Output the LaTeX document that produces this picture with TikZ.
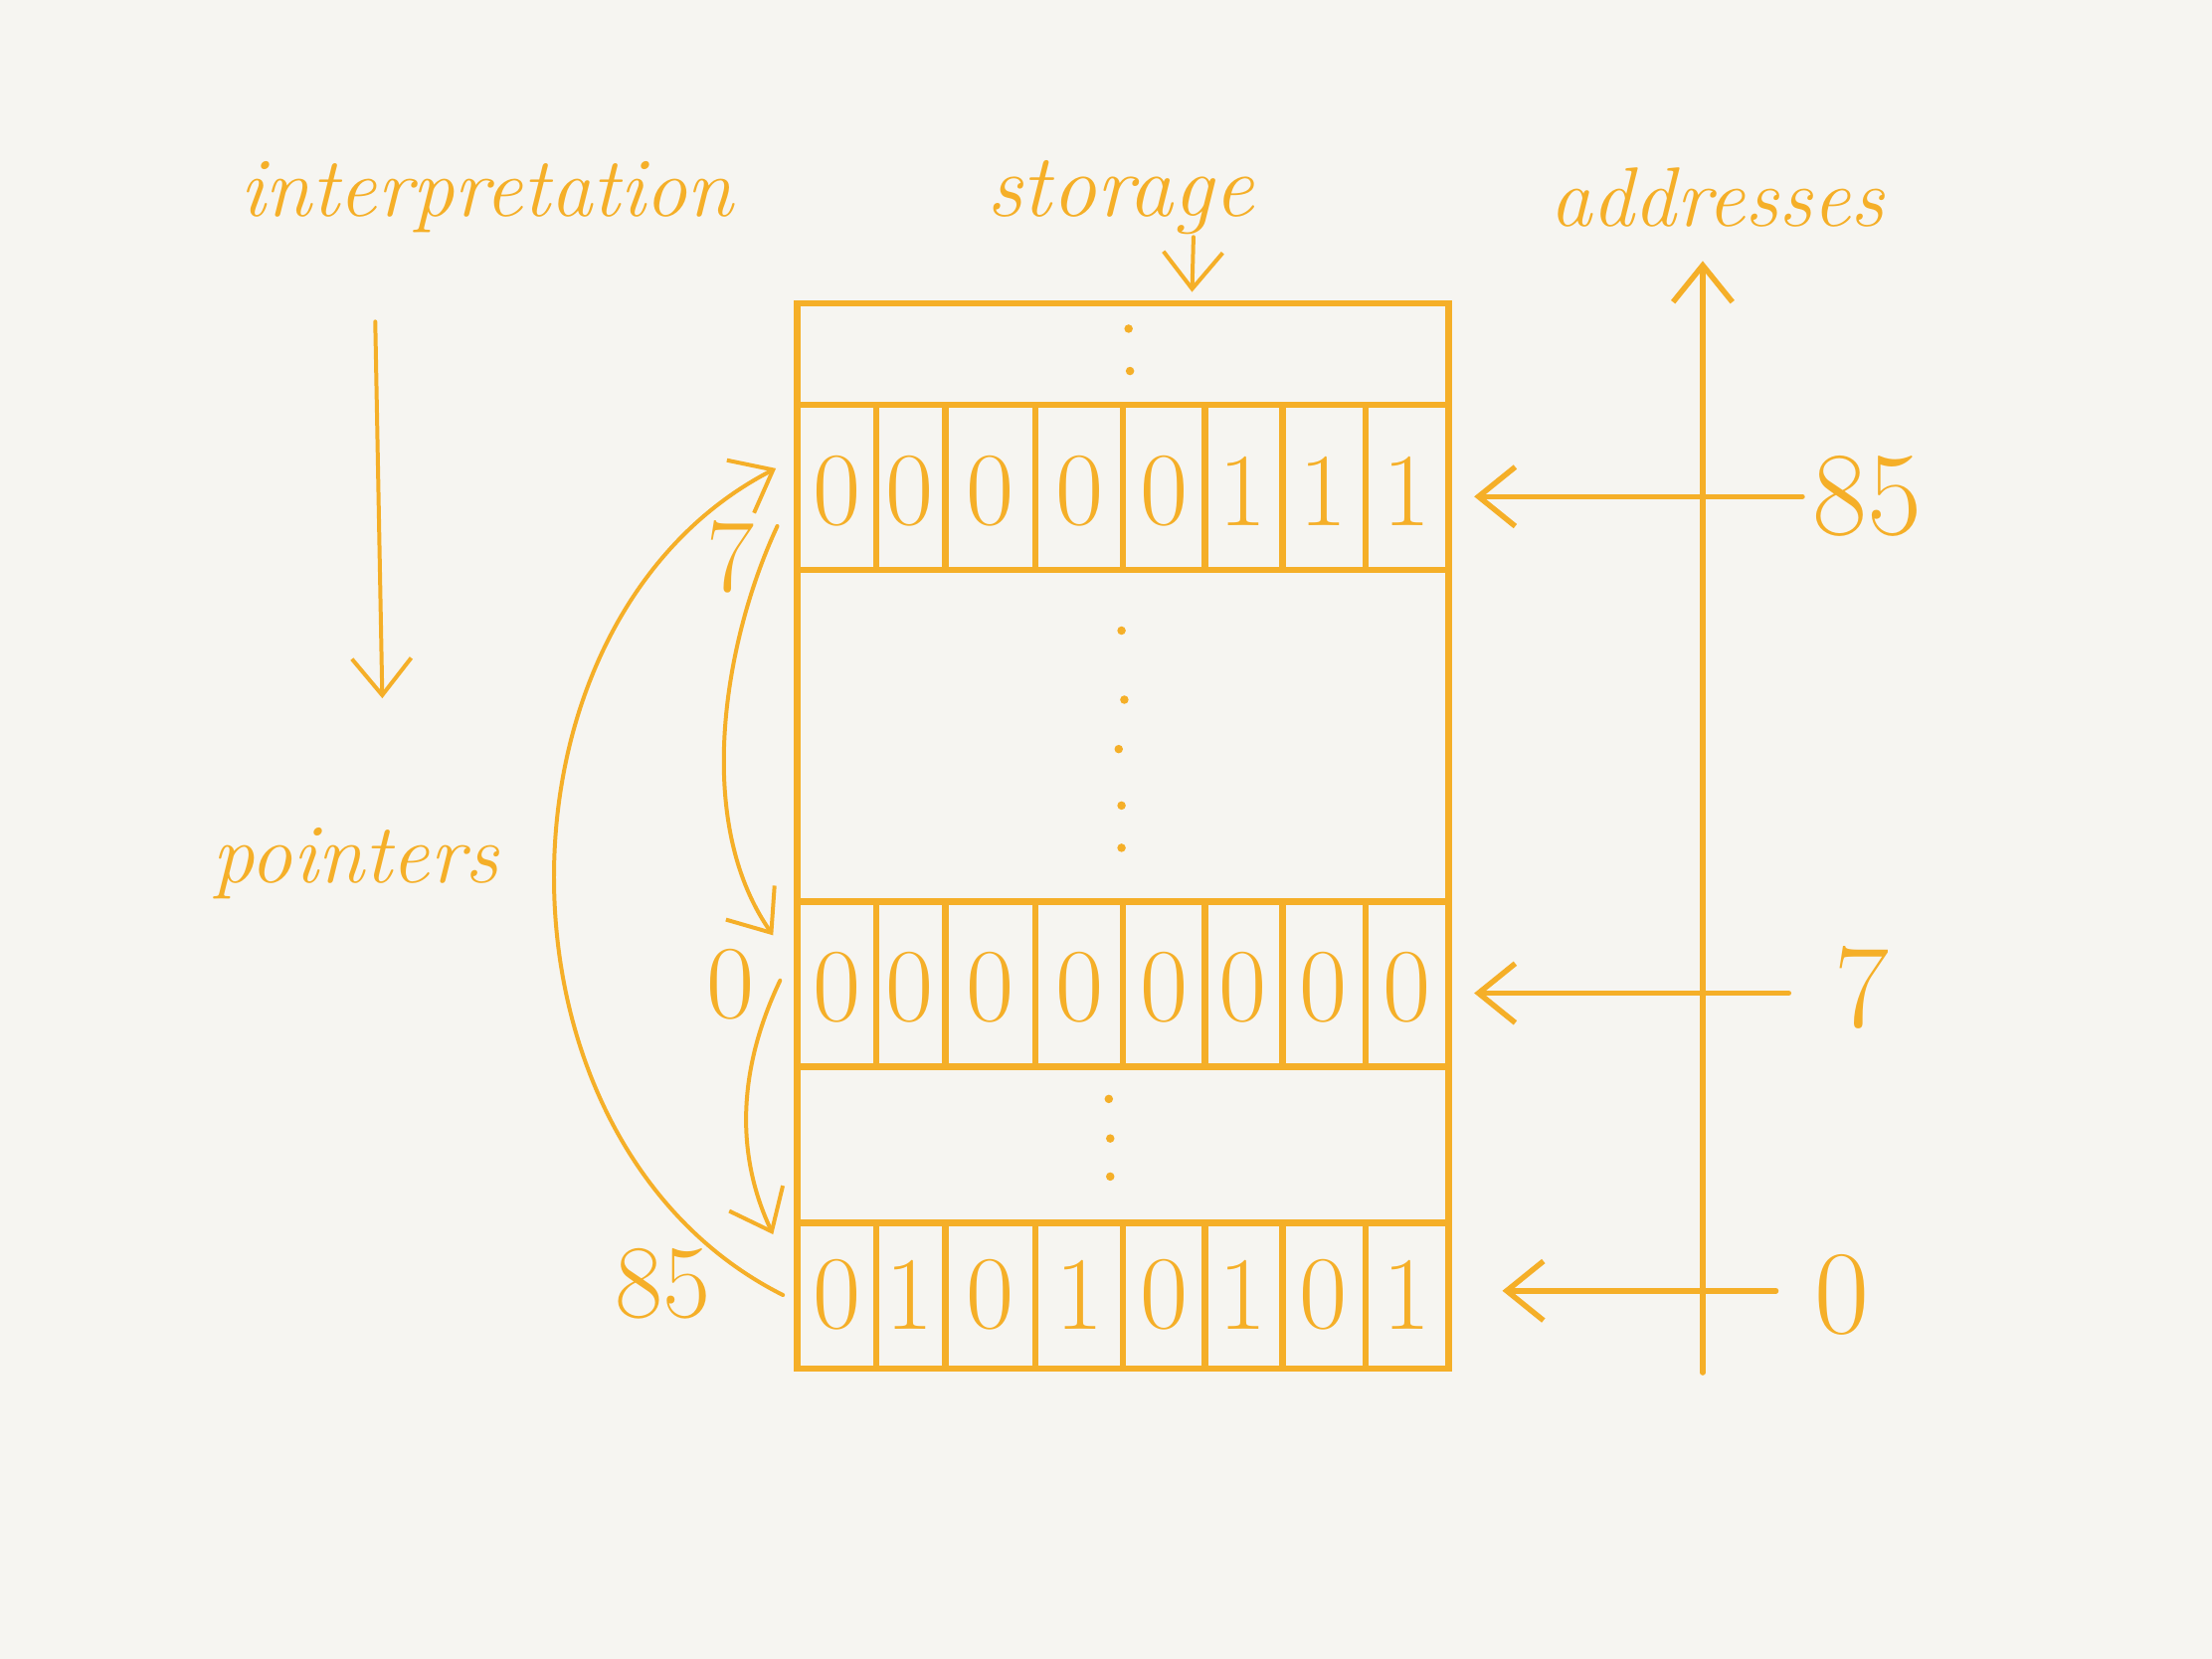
\documentclass[tikz,border=0pt]{standalone}
\usetikzlibrary{arrows.meta}
\definecolor{ink}{RGB}{245,175,40}
\definecolor{paper}{RGB}{246,245,241}
\begin{document}
\begin{tikzpicture}[x=0.01cm,y=-0.01cm,
  inkline/.style={draw=ink,line width=0.8pt,line cap=round},
  boxline/.style={draw=ink,line width=1.3pt},
  arr/.style={inkline,-{Straight Barb[length=2.6mm,width=4.2mm]}},
  word/.style={text=ink,font=\fontsize{17}{17}\selectfont\itshape,inner sep=1pt},
  bit/.style={text=ink,font=\fontsize{21}{21}\selectfont,inner sep=0pt},
  lab/.style={text=ink,font=\fontsize{21}{21}\selectfont,inner sep=2pt},
  addr/.style={text=ink,font=\fontsize{24}{24}\selectfont,inner sep=2pt}]
\useasboundingbox (0,0) rectangle (1568,1176);
\fill[paper] (0,0) rectangle (1568,1176);

% words
\node[word] (interp) at (345,140) {interpretation};
\node[word,font=\fontsize{18}{18}\selectfont\itshape] (storage) at (794,140) {storage};
\node[word] (addresses) at (1217,140) {addresses};
\node[word] (pointers) at (252,612) {pointers};

% storage box
\draw[boxline] (565,215) rectangle (1027,970);
\foreach \y in {287,404,639,756,867} \draw[boxline] (565,\y) -- (1027,\y);
\foreach \x in {621,670,734,796,854,909,968} {
  \draw[boxline] (\x,287) -- (\x,404);
  \draw[boxline] (\x,639) -- (\x,756);
  \draw[boxline] (\x,867) -- (\x,970);
}

% bits
\foreach \x/\a/\b/\c [count=\i] in {593/0/0/0, 645/0/0/1, 702/0/0/0, 765/0/0/1, 825/0/0/0, 881/1/0/1, 938/1/0/0, 997/1/0/1} {
  \node[bit] (ra\i) at (\x,348) {\a};
  \node[bit] (rb\i) at (\x,700) {\b};
  \node[bit] (rc\i) at (\x,918) {\c};
}

% ellipsis dots
\foreach \x/\y in {800/233, 801/263, 795/447, 797/496, 793/531, 795/571, 795/601, 786/779, 787/807, 787/834}
  \fill[ink] (\x,\y) circle[radius=0.3mm];

% interpretation -> pointers
\coordinate (i1) at (266,228);
\coordinate (i2) at (271,495);
\draw[arr] (i1) -- (i2);

% storage arrow
\coordinate (s1) at (846,168);
\coordinate (s2) at (845,207);
\draw[arr] (s1) -- (s2);

% address axis
\coordinate (ax0) at (1207,973);
\coordinate (ax1) at (1207,185);
\draw[arr,line width=1.1pt] (ax0) -- (ax1);

% address labels and arrows
\node[addr] (a85) at (1324,352) {85};
\node[addr] (a7) at (1320,700) {7};
\node[addr] (a0) at (1306,918) {0};
\coordinate (e1) at (1045,352);
\coordinate (e2) at (1045,704);
\coordinate (e3) at (1065,915);
\draw[arr,line width=1.1pt] (a85.west |- e1) -- (e1);
\draw[arr,line width=1.1pt,shorten <=2.5mm] (a7.west |- e2) -- (e2);
\draw[arr,line width=1.1pt,shorten <=2mm] (a0.west |- e3) -- (e3);

% values on the left
\node[lab] (v7) at (518,395) {7};
\node[lab] (v0) at (518,698) {0};
\node[lab] (v85) at (470,910) {85};

\coordinate (p7s) at (551,373);
\coordinate (p7e) at (548,663);
\draw[arr] (p7s) .. controls (515,450) and (490,580) .. (p7e);

\coordinate (p0s) at (553,695);
\coordinate (p0e) at (548,875);
\draw[arr] (p0s) .. controls (522,760) and (522,820) .. (p0e);

\coordinate (p85s) at (555,918);
\coordinate (p85e) at (550,332);
\draw[arr] (p85s) .. controls (340,810) and (340,440) .. (p85e);
\end{tikzpicture}
\end{document}
